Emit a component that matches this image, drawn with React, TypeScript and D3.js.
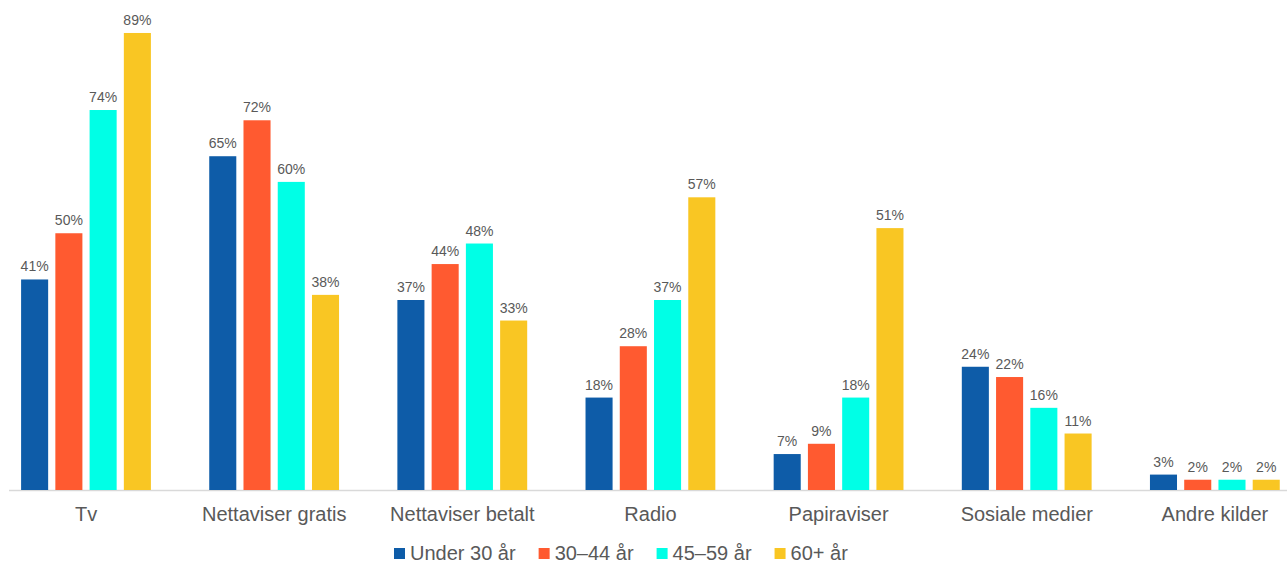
import React, { useEffect, useRef } from "react";
import * as d3 from "d3";

const categories = ["Tv", "Nettaviser gratis", "Nettaviser betalt", "Radio", "Papiraviser", "Sosiale medier", "Andre kilder"];
const seriesNames = ["Under 30 år", "30–44 år", "45–59 år", "60+ år"];
const under30 = [41, 65, 37, 18, 7, 24, 3];
const age30to44 = [50, 72, 44, 28, 9, 22, 2];
const age45to59 = [74, 60, 48, 37, 18, 16, 2];
const age60plus = [89, 38, 33, 57, 51, 11, 2];
const seriesValues = [under30, age30to44, age45to59, age60plus];
const colors = ["#0E5CA8", "#FF5A30", "#00FFE6", "#F9C623"];

const W = 1287;
const H = 563;

export default function App() {
  const ref = useRef<SVGSVGElement | null>(null);

  useEffect(() => {
    const svg = d3.select(ref.current);
    svg.selectAll("*").remove();

    const x0 = d3.scaleBand<string>().domain(categories).range([-8, 1309]).padding(0);
    const x1 = d3.scaleBand<string>().domain(seriesNames).range([25.5, 162.5]).paddingInner(0.21).paddingOuter(0.105);
    const y = d3.scaleLinear().domain([0, 100]).range([490, 490 - 513.5]);

    const font = "Liberation Sans, Arial, sans-serif";
    const textColor = "#595959";

    svg.append("line")
      .attr("x1", 9).attr("x2", W).attr("y1", 490.5).attr("y2", 490.5)
      .attr("stroke", "#d9d9d9").attr("stroke-width", 1.5);

    const groups = svg.selectAll("g.cat").data(categories).enter().append("g")
      .attr("transform", (c) => `translate(${x0(c)},0)`);

    groups.each(function (c, ci) {
      const g = d3.select(this);
      seriesNames.forEach((s, si) => {
        const v = seriesValues[si][ci];
        const bx = x1(s)!;
        g.append("rect")
          .attr("x", bx).attr("width", x1.bandwidth())
          .attr("y", y(v)).attr("height", y(0) - y(v))
          .attr("fill", colors[si]);
        g.append("text")
          .attr("x", bx + x1.bandwidth() / 2).attr("y", y(v) - 8)
          .attr("text-anchor", "middle")
          .attr("font-family", font).attr("font-size", 14)
          .attr("fill", textColor)
          .text(`${v}%`);
      });
      g.append("text")
        .attr("x", x0.bandwidth() / 2).attr("y", 521)
        .attr("text-anchor", "middle")
        .attr("font-family", font).attr("font-size", 20)
        .attr("fill", textColor)
        .text(c);
    });

    const legend = svg.append("g");
    let lx = 394;
    seriesNames.forEach((s, si) => {
      legend.append("rect").attr("x", lx).attr("y", 548).attr("width", 11).attr("height", 11).attr("fill", colors[si]);
      const t = legend.append("text")
        .attr("x", lx + 16).attr("y", 560)
        .attr("font-family", font).attr("font-size", 20)
        .attr("fill", textColor)
        .text(s);
      const w = (t.node() as SVGTextElement).getComputedTextLength();
      lx = lx + 16 + w + 23;
    });
  }, []);

  return (
    <svg ref={ref} width={W} height={H} style={{ display: "block", position: "absolute", left: 0, top: 0, background: "#fff" }} />
  );
}
